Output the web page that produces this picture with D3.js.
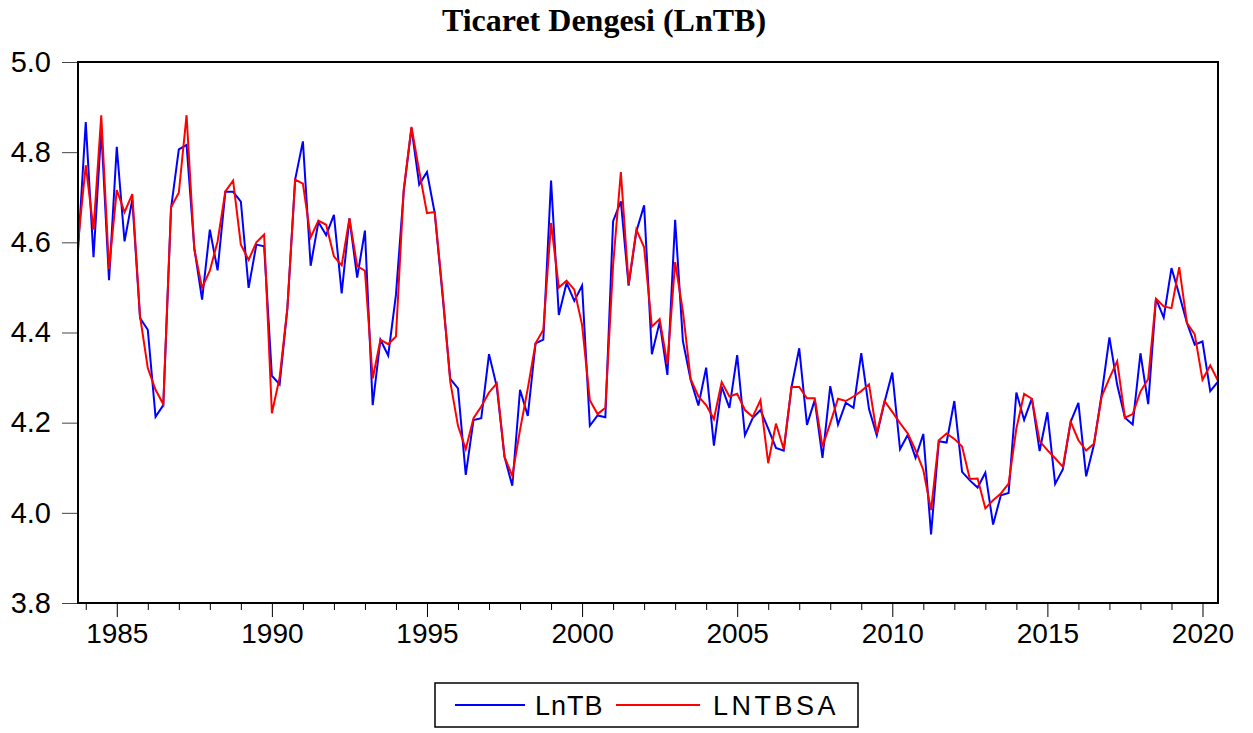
<!DOCTYPE html>
<html><head><meta charset="utf-8">
<script src="https://cdn.jsdelivr.net/npm/d3@7"></script>
<style>
body{margin:0;background:#fff;}
svg{display:block;}
</style></head>
<body>
<svg id="chart" width="1253" height="733"></svg>
<script>
// Quarterly sample: 1983Q4 .. 2020Q3
const startYear = 1983, startQuarter = 4;
const lnTB = [4.58,4.867,4.567,4.85,4.516,4.812,4.602,4.695,4.432,4.406,4.213,4.239,4.676,4.806,4.816,4.587,4.473,4.628,4.538,4.712,
4.712,4.69,4.499,4.595,4.591,4.304,4.285,4.454,4.739,4.824,4.548,4.645,4.616,4.661,4.487,4.653,4.522,4.626,4.239,4.384,
4.349,4.484,4.713,4.854,4.728,4.756,4.665,4.484,4.297,4.276,4.084,4.206,4.21,4.352,4.28,4.124,4.06,4.273,4.215,4.376,
4.384,4.737,4.439,4.51,4.47,4.504,4.193,4.216,4.212,4.647,4.691,4.504,4.624,4.682,4.352,4.423,4.306,4.65,4.381,4.295,
4.238,4.322,4.149,4.28,4.233,4.35,4.172,4.21,4.228,4.187,4.144,4.138,4.278,4.365,4.195,4.25,4.122,4.281,4.196,4.244,
4.233,4.354,4.23,4.172,4.246,4.311,4.141,4.173,4.122,4.175,3.952,4.159,4.156,4.248,4.091,4.072,4.056,4.089,3.974,4.039,
4.044,4.267,4.206,4.254,4.137,4.223,4.064,4.097,4.202,4.244,4.081,4.151,4.263,4.389,4.284,4.211,4.196,4.354,4.241,4.475,
4.433,4.543,4.484,4.421,4.373,4.38,4.27,4.291];
const lnTBSA = [4.60,4.771,4.628,4.882,4.541,4.716,4.667,4.707,4.436,4.321,4.273,4.241,4.678,4.71,4.882,4.584,4.499,4.537,4.602,4.713,
4.737,4.595,4.561,4.6,4.617,4.221,4.30,4.454,4.739,4.73,4.611,4.648,4.639,4.569,4.549,4.653,4.547,4.537,4.298,4.384,
4.374,4.391,4.717,4.856,4.758,4.665,4.667,4.491,4.291,4.193,4.141,4.21,4.236,4.267,4.287,4.124,4.082,4.184,4.276,4.376,
4.406,4.643,4.5,4.515,4.495,4.417,4.25,4.219,4.233,4.55,4.756,4.507,4.628,4.589,4.413,4.43,4.33,4.556,4.447,4.297,
4.258,4.239,4.208,4.29,4.258,4.264,4.228,4.213,4.25,4.11,4.198,4.141,4.279,4.279,4.254,4.254,4.147,4.199,4.253,4.248,
4.258,4.27,4.285,4.176,4.248,4.224,4.199,4.176,4.139,4.095,4.006,4.161,4.176,4.164,4.147,4.075,4.076,4.01,4.028,4.043,
4.065,4.187,4.264,4.253,4.159,4.139,4.121,4.102,4.202,4.161,4.138,4.153,4.258,4.299,4.336,4.211,4.219,4.269,4.297,4.475,
4.458,4.454,4.545,4.421,4.396,4.295,4.327,4.293];
const yTicks = [3.8,4.0,4.2,4.4,4.6,4.8,5.0];
const majorYearLabels = ["1985","1990","1995","2000","2005","2010","2015","2020"];
const seriesNames = ["LnTB","LNTBSA"];
const seriesColors = ["#0000ff","#ff0000"];
const title = "Ticaret Dengesi (LnTB)";

const N = lnTB.length;
const periods = d3.range(N).map(i => {
  const q0 = (startQuarter - 1) + i;
  return {year: startYear + Math.floor(q0/4), q: (q0 % 4) + 1, i};
});

const svg = d3.select("#chart");
const L = 78, R = 1218, T = 62, B = 603;
const x = d3.scaleLinear().domain([0, N-1]).range([L, R]);
const y = d3.scaleLinear().domain([3.8, 5.0]).range([B, T]);

// title
svg.append("text").attr("x", 604).attr("y", 31).attr("text-anchor","middle")
  .attr("font-family","'Liberation Serif','Times New Roman',serif").attr("font-weight","bold")
  .attr("font-size", 32).attr("fill","#000").text(title);

// y axis
const yAxis = d3.axisLeft(y).tickValues(yTicks).tickFormat(d3.format(".1f")).tickSize(16).tickPadding(11);
const gy = svg.append("g").attr("transform",`translate(${L},0)`).call(yAxis);
gy.select(".domain").remove();
gy.selectAll(".tick line").attr("stroke","#444").attr("stroke-width",1);
gy.selectAll(".tick text").attr("font-family","'Liberation Sans',Arial,sans-serif").attr("font-size",29).attr("fill","#000");

// x axis: yearly ticks at Q1
const q1 = periods.filter(p => p.q === 1);
const minor = q1.filter(p => p.year % 5 !== 0).map(p => p.i);
const major = q1.filter(p => majorYearLabels.includes(String(p.year))).map(p => p.i);
const gxMinor = svg.append("g").attr("transform",`translate(0,${B})`)
  .call(d3.axisBottom(x).tickValues(minor).tickSize(7).tickFormat(""));
gxMinor.select(".domain").remove();
gxMinor.selectAll(".tick line").attr("stroke","#000").attr("stroke-width",1);
const gxMajor = svg.append("g").attr("transform",`translate(0,${B})`)
  .call(d3.axisBottom(x).tickValues(major).tickSize(14).tickPadding(6)
    .tickFormat(i => String(periods[i].year)));
gxMajor.select(".domain").remove();
gxMajor.selectAll(".tick line").attr("stroke","#000").attr("stroke-width",1);
gxMajor.selectAll(".tick text").attr("font-family","'Liberation Sans',Arial,sans-serif").attr("font-size",28).attr("fill","#000");

// lines
const line = d3.line().x((d,i) => x(i)).y(d => y(d));
svg.append("path").datum(lnTB).attr("d", line).attr("fill","none")
  .attr("stroke", seriesColors[0]).attr("stroke-width", 2).attr("stroke-linejoin","miter");
svg.append("path").datum(lnTBSA).attr("d", line).attr("fill","none")
  .attr("stroke", seriesColors[1]).attr("stroke-width", 2).attr("stroke-linejoin","miter");

// frame
svg.append("rect").attr("x", L).attr("y", T).attr("width", R-L).attr("height", B-T)
  .attr("fill","none").attr("stroke","#000").attr("stroke-width",2);

// legend
const lg = svg.append("g");
lg.append("rect").attr("x",435).attr("y",683).attr("width",423).attr("height",44)
  .attr("fill","#fff").attr("stroke","#000").attr("stroke-width",1.5);
const legendItems = [{x1:455,x2:525,tx:535},{x1:616,x2:700,tx:713}];
legendItems.forEach((it,k) => {
  lg.append("line").attr("x1",it.x1).attr("x2",it.x2).attr("y1",705).attr("y2",705)
    .attr("stroke",seriesColors[k]).attr("stroke-width",2);
  lg.append("text").attr("x",it.tx).attr("y",715).attr("font-family","'Liberation Sans',Arial,sans-serif")
    .attr("font-size",27).attr("letter-spacing", k===1 ? 3.5 : 1).attr("fill","#000").text(seriesNames[k]);
});
</script>
</body></html>
